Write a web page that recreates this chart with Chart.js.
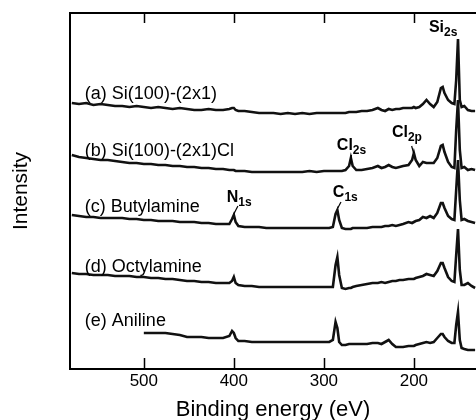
<!DOCTYPE html>
<html>
<head>
<meta charset="utf-8">
<script src="https://cdn.jsdelivr.net/npm/chart.js@4.4.1/dist/chart.umd.min.js"></script>
<style>
  html, body { margin: 0; padding: 0; background: #fff; }
  canvas { display: block; }
</style>
</head>
<body>
<canvas id="c" width="476" height="420"></canvas>
<script>
// Binding energies (eV), shared by all spectra
const energies = [580,572,564,556,548,540,532,524,516,508,500,492,484,476,468,460,452,444,436,428,420,412,405,402,400,398,395,388,380,372,364,356,348,340,332,324,316,308,300,294,290,287,285,283,280,276,272,270,268,264,258,252,246,240,236,232,228,224,220,216,212,206,202,200,198,194,190,186,182,178,174,170,168,166,162,158,155,153,151,149,147,144,140,136,132];

// Intensity (a.u., vertically offset spectra)
const specA = [266,265,266,264,265,264,263,263,262,263,262,261,262,261,260,261,260,259,259,260,259,259,260,261,261,259,258,258,257,256,256,256,255,256,255,256,255,256,256,256,256,256,256,256,256,256,257,257,257,257,258,258,259,261,259,258,260,259,260,260,261,261,261,262,261,262,265,269,265,262,267,281,282,276,269,266,265,289,330,269,262,263,259,258,258];
const specB = [214,212,211,210,209,209,208,207,206,206,205,205,204,204,203,203,202,202,201,201,200,200,199,199,199,198,198,198,197,197,197,197,197,197,197,197,198,197,198,198,198,198,198,198,198,199,203,211,203,199,199,200,201,203,201,202,204,202,201,202,203,204,209,216,209,203,207,206,206,206,211,223,224,217,207,202,201,239,269,219,201,202,199,200,199];
const specC = [154,153,152,152,151,151,151,151,150,150,149,149,148,148,148,147,147,147,146,146,145,145,145,150,154,147,143,142,142,142,141,141,141,141,141,141,141,141,141,141,142,155,159,149,141,140,140,140,141,141,141,141,142,142,142,143,143,144,143,144,145,147,146,147,148,149,152,151,153,151,156,166,166,161,153,150,149,179,209,169,149,150,148,147,146];
const specD = [96,95,95,94,94,94,93,93,93,92,92,91,91,90,90,89,88,88,87,87,86,86,86,88,92,86,84,83,83,82,82,82,82,82,82,82,82,82,82,82,82,104,112,94,81,80,81,81,82,83,84,85,86,86,87,86,87,88,88,89,89,90,90,90,91,92,93,95,94,93,98,106,106,101,92,88,87,114,140,99,84,84,86,83,81];
const specE = [null,null,null,null,null,null,null,null,null,null,36,36,36,36,35,34,32,32,32,31,31,31,33,38,36,31,28,28,27,27,27,27,27,27,27,27,27,27,27,27,29,47,41,27,24,24,25,25,25,25,25,25,26,26,25,27,29,25,22,22,22,23,23,23,24,25,26,27,26,27,31,35,35,32,28,26,26,44,57,29,21,20,19,19,19];

const xTicks = [500, 400, 300, 200];
const traceLabels = ['(a) Si(100)-(2x1)', '(b) Si(100)-(2x1)Cl', '(c) Butylamine', '(d) Octylamine', '(e) Aniline'];
const peakNames = [['Si','2s'], ['Cl','2s'], ['Cl','2p'], ['N','1s'], ['C','1s']];

// Annotation anchors in data units (binding energy, intensity)
const traceLabelPos = [[565.5,270],[565.5,213],[565.5,157],[565.5,97],[565.5,43]];
const peakLabelPos = [[183.3,337],[285.6,219],[224.4,232],[407.8,167],[290,172]];
const leaders = [null, [269.5,214,270,206], [202.5,223,200.3,216], [395.5,163,400,155], [281,167,284.5,161]];

const seriesList = [specA, specB, specC, specD, specE];
const datasets = seriesList.map(s => ({
  data: energies.map((e, i) => ({x: e, y: s[i]})),
  borderColor: '#111',
  borderWidth: 2.6,
  pointRadius: 0,
  tension: 0,
  spanGaps: false
}));

const FONT = "'Liberation Sans', Arial, Helvetica, sans-serif";

const annot = {
  id: 'annot',
  afterDraw(chart) {
    const {ctx, chartArea} = chart;
    const xs = chart.scales.x, ys = chart.scales.y;
    ctx.save();
    // inward tick marks on top and bottom axes
    ctx.strokeStyle = '#000';
    ctx.lineWidth = 1.5;
    xTicks.forEach(v => {
      const px = Math.round(xs.getPixelForValue(v)) + 0.5;
      ctx.beginPath();
      ctx.moveTo(px, chartArea.bottom);
      ctx.lineTo(px, chartArea.bottom - 11);
      ctx.moveTo(px, chartArea.top);
      ctx.lineTo(px, chartArea.top + 10);
      ctx.stroke();
    });
    // trace labels
    ctx.fillStyle = '#000';
    ctx.textBaseline = 'alphabetic';
    ctx.textAlign = 'left';
    ctx.font = '18px ' + FONT;
    traceLabels.forEach((t, i) => {
      ctx.fillText(t, xs.getPixelForValue(traceLabelPos[i][0]), ys.getPixelForValue(traceLabelPos[i][1]));
    });
    // peak labels with subscripts
    peakNames.forEach((p, i) => {
      const px = xs.getPixelForValue(peakLabelPos[i][0]);
      const py = ys.getPixelForValue(peakLabelPos[i][1]);
      ctx.font = 'bold 16px ' + FONT;
      ctx.fillText(p[0], px, py);
      const w = ctx.measureText(p[0]).width;
      ctx.font = 'bold 12px ' + FONT;
      ctx.fillText(p[1], px + w, py + 4);
    });
    // leader lines
    ctx.lineWidth = 1.2;
    leaders.forEach(l => {
      if (!l) return;
      ctx.beginPath();
      ctx.moveTo(xs.getPixelForValue(l[0]), ys.getPixelForValue(l[1]));
      ctx.lineTo(xs.getPixelForValue(l[2]), ys.getPixelForValue(l[3]));
      ctx.stroke();
    });
    ctx.restore();
  }
};

new Chart(document.getElementById('c'), {
  type: 'line',
  data: { datasets },
  plugins: [annot],
  options: {
    responsive: false,
    animation: false,
    events: [],
    layout: { padding: 0 },
    plugins: { legend: { display: false }, tooltip: { enabled: false } },
    scales: {
      x: {
        type: 'linear', position: 'bottom', reverse: true, min: 131, max: 582,
        afterBuildTicks(s) { s.ticks = xTicks.map(v => ({value: v})); },
        afterFit(s) { s.height = 51; },
        grid: { display: true, drawOnChartArea: false, drawTicks: false },
        border: { display: true, color: '#000', width: 2 },
        ticks: { color: '#000', font: { family: FONT, size: 17 }, padding: 2, maxRotation: 0, autoSkip: false },
        title: { display: true, text: 'Binding energy (eV)', color: '#000', font: { family: FONT, size: 22, lineHeight: 0.9 }, padding: { top: 0, bottom: 0 } }
      },
      xTop: {
        type: 'linear', position: 'top', reverse: true, min: 131, max: 582,
        afterFit(s) { s.height = 13; },
        grid: { display: false, drawTicks: false },
        border: { display: true, color: '#000', width: 2 },
        ticks: { display: false }
      },
      y: {
        type: 'linear', position: 'left', min: 0, max: 356,
        afterFit(s) { s.width = 70; },
        grid: { display: false, drawTicks: false },
        border: { display: true, color: '#000', width: 2 },
        ticks: { display: false },
        title: { display: true, text: 'Intensity', color: '#000', font: { family: FONT, size: 21 }, padding: { top: 9, bottom: 0 } }
      }
    }
  }
});
</script>
</body>
</html>
